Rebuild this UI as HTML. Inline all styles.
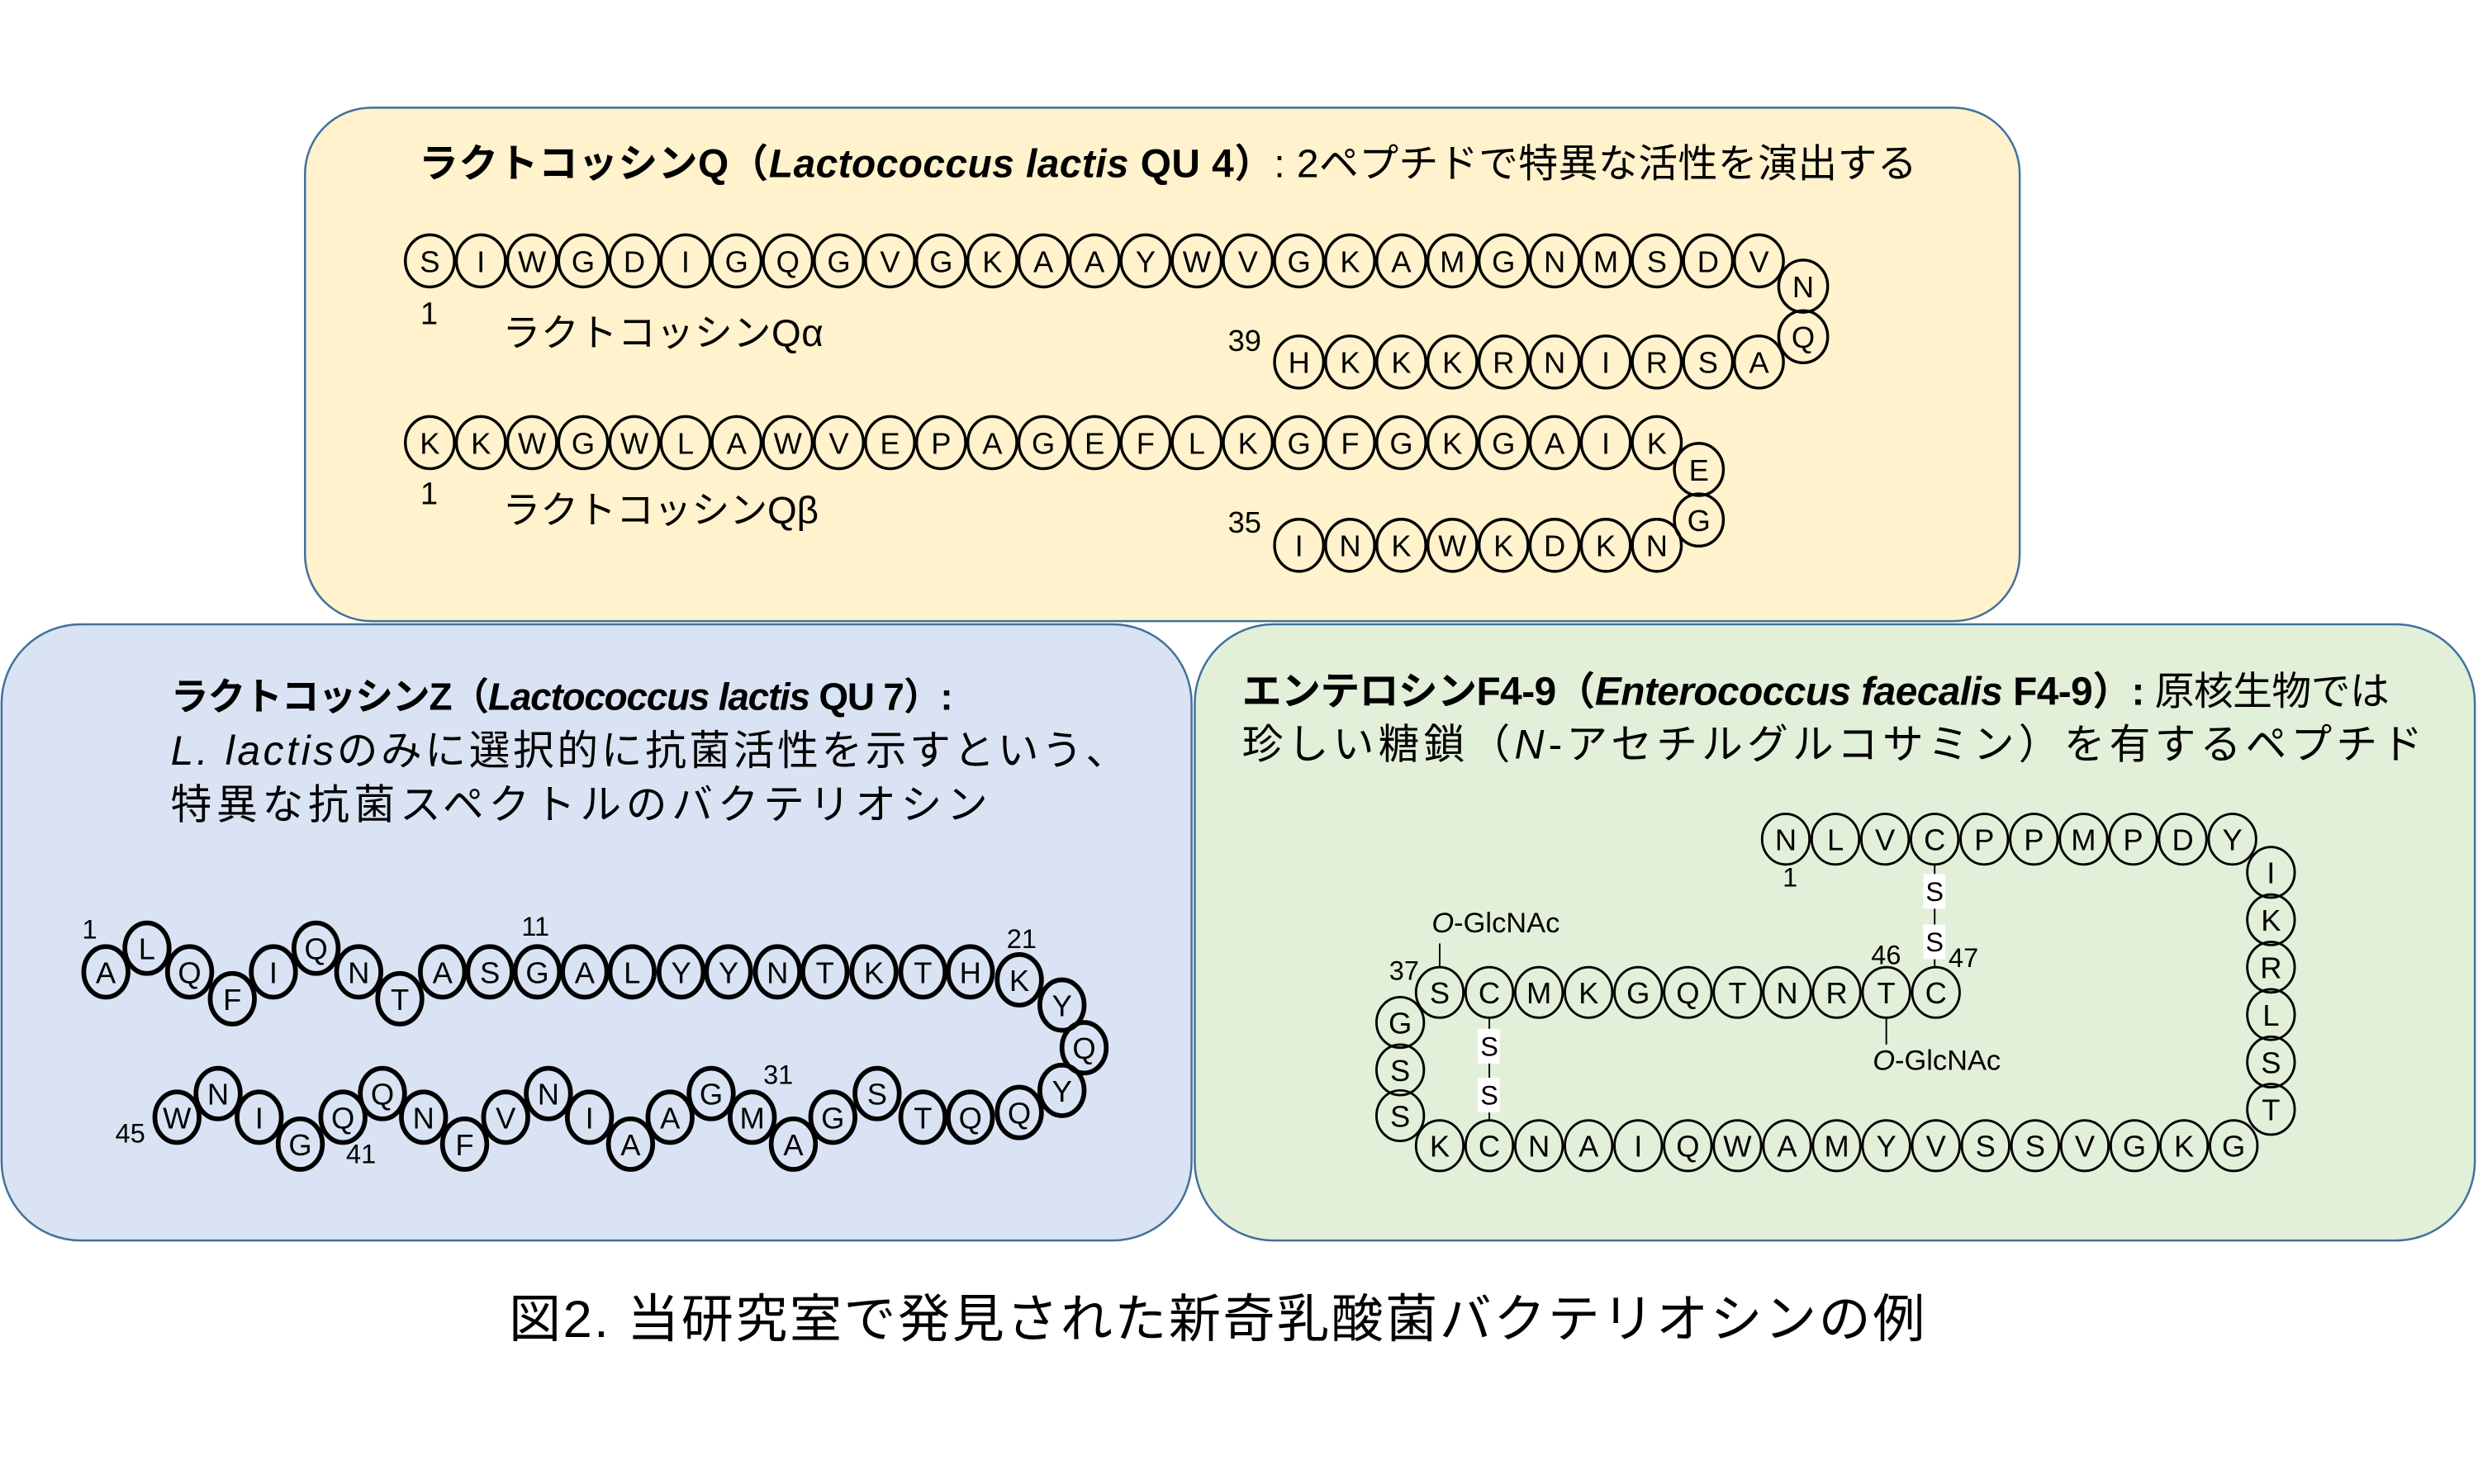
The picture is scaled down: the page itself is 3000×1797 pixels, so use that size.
<!DOCTYPE html>
<html><head><meta charset="utf-8"><style>
html,body{margin:0;padding:0;background:#fff;}
svg{display:block;}
text{font-family:"Liberation Sans","Noto Sans CJK JP",sans-serif;fill:#000;}
.c{fill:none;stroke:#000;stroke-width:1.8;}
.z{fill:none;stroke:#000;stroke-width:3;}
.g{fill:none;stroke:#000;stroke-width:1.5;}
.l{font-size:19px;text-anchor:middle;}
.n{font-size:17px;}
.t{font-size:25px;}
</style></head><body>
<svg width="3000" height="1797" viewBox="0 0 1568 939" xmlns="http://www.w3.org/2000/svg">
<rect x="193" y="68" width="1085" height="325" rx="42" fill="#fff2cc" stroke="#41719c" stroke-width="1.3"/>
<rect x="1" y="395" width="753" height="390" rx="50" fill="#dae3f3" stroke="#41719c" stroke-width="1.3"/>
<rect x="756" y="395" width="810" height="390" rx="50" fill="#e2efd9" stroke="#41719c" stroke-width="1.3"/>

<text x="265" y="112" class="t" font-weight="bold" textLength="948">ラクトコッシンQ（<tspan font-style="italic">Lactococcus lactis</tspan> QU 4）<tspan font-weight="normal">: 2ペプチドで特異な活性を演出する</tspan></text>

<g>
<g class="c">
<ellipse cx="272" cy="165" rx="15.5" ry="16.5"/><ellipse cx="304.3" cy="165" rx="15.5" ry="16.5"/><ellipse cx="336.7" cy="165" rx="15.5" ry="16.5"/><ellipse cx="369" cy="165" rx="15.5" ry="16.5"/><ellipse cx="401.4" cy="165" rx="15.5" ry="16.5"/><ellipse cx="433.8" cy="165" rx="15.5" ry="16.5"/><ellipse cx="466.1" cy="165" rx="15.5" ry="16.5"/><ellipse cx="498.5" cy="165" rx="15.5" ry="16.5"/><ellipse cx="530.8" cy="165" rx="15.5" ry="16.5"/><ellipse cx="563.2" cy="165" rx="15.5" ry="16.5"/><ellipse cx="595.5" cy="165" rx="15.5" ry="16.5"/><ellipse cx="627.9" cy="165" rx="15.5" ry="16.5"/><ellipse cx="660.2" cy="165" rx="15.5" ry="16.5"/><ellipse cx="692.6" cy="165" rx="15.5" ry="16.5"/><ellipse cx="724.9" cy="165" rx="15.5" ry="16.5"/><ellipse cx="757.3" cy="165" rx="15.5" ry="16.5"/><ellipse cx="789.6" cy="165" rx="15.5" ry="16.5"/><ellipse cx="822" cy="165" rx="15.5" ry="16.5"/><ellipse cx="854.3" cy="165" rx="15.5" ry="16.5"/><ellipse cx="886.7" cy="165" rx="15.5" ry="16.5"/><ellipse cx="919" cy="165" rx="15.5" ry="16.5"/><ellipse cx="951.4" cy="165" rx="15.5" ry="16.5"/><ellipse cx="983.7" cy="165" rx="15.5" ry="16.5"/><ellipse cx="1016.1" cy="165" rx="15.5" ry="16.5"/><ellipse cx="1048.4" cy="165" rx="15.5" ry="16.5"/><ellipse cx="1080.8" cy="165" rx="15.5" ry="16.5"/><ellipse cx="1113" cy="165" rx="15.5" ry="16.5"/>
<ellipse cx="1141" cy="181" rx="15.5" ry="16.5"/><ellipse cx="1141" cy="213" rx="15.5" ry="16.5"/>
<ellipse cx="822" cy="229" rx="15.5" ry="16.5"/><ellipse cx="854.3" cy="229" rx="15.5" ry="16.5"/><ellipse cx="886.7" cy="229" rx="15.5" ry="16.5"/><ellipse cx="919" cy="229" rx="15.5" ry="16.5"/><ellipse cx="951.4" cy="229" rx="15.5" ry="16.5"/><ellipse cx="983.7" cy="229" rx="15.5" ry="16.5"/><ellipse cx="1016.1" cy="229" rx="15.5" ry="16.5"/><ellipse cx="1048.4" cy="229" rx="15.5" ry="16.5"/><ellipse cx="1080.8" cy="229" rx="15.5" ry="16.5"/><ellipse cx="1113" cy="229" rx="15.5" ry="16.5"/>
</g>
<g class="l">
<text x="272" y="172">S</text><text x="304.3" y="172">I</text><text x="336.7" y="172">W</text><text x="369" y="172">G</text><text x="401.4" y="172">D</text><text x="433.8" y="172">I</text><text x="466.1" y="172">G</text><text x="498.5" y="172">Q</text><text x="530.8" y="172">G</text><text x="563.2" y="172">V</text><text x="595.5" y="172">G</text><text x="627.9" y="172">K</text><text x="660.2" y="172">A</text><text x="692.6" y="172">A</text><text x="724.9" y="172">Y</text><text x="757.3" y="172">W</text><text x="789.6" y="172">V</text><text x="822" y="172">G</text><text x="854.3" y="172">K</text><text x="886.7" y="172">A</text><text x="919" y="172">M</text><text x="951.4" y="172">G</text><text x="983.7" y="172">N</text><text x="1016.1" y="172">M</text><text x="1048.4" y="172">S</text><text x="1080.8" y="172">D</text><text x="1113" y="172">V</text>
<text x="1141" y="188">N</text><text x="1141" y="220">Q</text>
<text x="822" y="236">H</text><text x="854.3" y="236">K</text><text x="886.7" y="236">K</text><text x="919" y="236">K</text><text x="951.4" y="236">R</text><text x="983.7" y="236">N</text><text x="1016.1" y="236">I</text><text x="1048.4" y="236">R</text><text x="1080.8" y="236">S</text><text x="1113" y="236">A</text>
</g>
<text x="266" y="205" style="font-size:20px">1</text>
<text x="777" y="222" style="font-size:19px">39</text>
<text x="318" y="219" style="font-size:24px" textLength="203">ラクトコッシンQα</text>
</g>

<g>
<g class="c">
<ellipse cx="272" cy="280" rx="15.5" ry="16.5"/><ellipse cx="304.3" cy="280" rx="15.5" ry="16.5"/><ellipse cx="336.7" cy="280" rx="15.5" ry="16.5"/><ellipse cx="369" cy="280" rx="15.5" ry="16.5"/><ellipse cx="401.4" cy="280" rx="15.5" ry="16.5"/><ellipse cx="433.8" cy="280" rx="15.5" ry="16.5"/><ellipse cx="466.1" cy="280" rx="15.5" ry="16.5"/><ellipse cx="498.5" cy="280" rx="15.5" ry="16.5"/><ellipse cx="530.8" cy="280" rx="15.5" ry="16.5"/><ellipse cx="563.2" cy="280" rx="15.5" ry="16.5"/><ellipse cx="595.5" cy="280" rx="15.5" ry="16.5"/><ellipse cx="627.9" cy="280" rx="15.5" ry="16.5"/><ellipse cx="660.2" cy="280" rx="15.5" ry="16.5"/><ellipse cx="692.6" cy="280" rx="15.5" ry="16.5"/><ellipse cx="724.9" cy="280" rx="15.5" ry="16.5"/><ellipse cx="757.3" cy="280" rx="15.5" ry="16.5"/><ellipse cx="789.6" cy="280" rx="15.5" ry="16.5"/><ellipse cx="822" cy="280" rx="15.5" ry="16.5"/><ellipse cx="854.3" cy="280" rx="15.5" ry="16.5"/><ellipse cx="886.7" cy="280" rx="15.5" ry="16.5"/><ellipse cx="919" cy="280" rx="15.5" ry="16.5"/><ellipse cx="951.4" cy="280" rx="15.5" ry="16.5"/><ellipse cx="983.7" cy="280" rx="15.5" ry="16.5"/><ellipse cx="1016.1" cy="280" rx="15.5" ry="16.5"/><ellipse cx="1048.4" cy="280" rx="15.5" ry="16.5"/>
<ellipse cx="1075" cy="297" rx="15.5" ry="16.5"/><ellipse cx="1075" cy="329" rx="15.5" ry="16.5"/>
<ellipse cx="822" cy="345" rx="15.5" ry="16.5"/><ellipse cx="854.3" cy="345" rx="15.5" ry="16.5"/><ellipse cx="886.7" cy="345" rx="15.5" ry="16.5"/><ellipse cx="919" cy="345" rx="15.5" ry="16.5"/><ellipse cx="951.4" cy="345" rx="15.5" ry="16.5"/><ellipse cx="983.7" cy="345" rx="15.5" ry="16.5"/><ellipse cx="1016.1" cy="345" rx="15.5" ry="16.5"/><ellipse cx="1048.4" cy="345" rx="15.5" ry="16.5"/>
</g>
<g class="l">
<text x="272" y="287">K</text><text x="304.3" y="287">K</text><text x="336.7" y="287">W</text><text x="369" y="287">G</text><text x="401.4" y="287">W</text><text x="433.8" y="287">L</text><text x="466.1" y="287">A</text><text x="498.5" y="287">W</text><text x="530.8" y="287">V</text><text x="563.2" y="287">E</text><text x="595.5" y="287">P</text><text x="627.9" y="287">A</text><text x="660.2" y="287">G</text><text x="692.6" y="287">E</text><text x="724.9" y="287">F</text><text x="757.3" y="287">L</text><text x="789.6" y="287">K</text><text x="822" y="287">G</text><text x="854.3" y="287">F</text><text x="886.7" y="287">G</text><text x="919" y="287">K</text><text x="951.4" y="287">G</text><text x="983.7" y="287">A</text><text x="1016.1" y="287">I</text><text x="1048.4" y="287">K</text>
<text x="1075" y="304">E</text><text x="1075" y="336">G</text>
<text x="822" y="352">I</text><text x="854.3" y="352">N</text><text x="886.7" y="352">K</text><text x="919" y="352">W</text><text x="951.4" y="352">K</text><text x="983.7" y="352">D</text><text x="1016.1" y="352">K</text><text x="1048.4" y="352">N</text>
</g>
<text x="266" y="319" style="font-size:20px">1</text>
<text x="777" y="337" style="font-size:19px">35</text>
<text x="318" y="331" style="font-size:24px" textLength="200">ラクトコッシンQβ</text>
</g>

<!-- Z panel -->
<text x="108" y="449" style="font-size:24px" font-weight="bold" textLength="495">ラクトコッシンZ（<tspan font-style="italic">Lactococcus lactis</tspan> QU 7）:</text>
<text x="108" y="484" style="font-size:26px" textLength="605"><tspan font-style="italic">L. lactis</tspan>のみに選択的に抗菌活性を示すという、</text>
<text x="108" y="518" style="font-size:26px" textLength="517">特異な抗菌スペクトルのバクテリオシン</text>
<g class="z">
<ellipse cx="67" cy="615" rx="14" ry="16"/><ellipse cx="93" cy="600" rx="14" ry="16"/><ellipse cx="120" cy="615" rx="14" ry="16"/><ellipse cx="147" cy="632" rx="14" ry="16"/><ellipse cx="173" cy="615" rx="14" ry="16"/><ellipse cx="200" cy="600" rx="14" ry="16"/><ellipse cx="227" cy="615" rx="14" ry="16"/><ellipse cx="253" cy="632" rx="14" ry="16"/><ellipse cx="280" cy="615" rx="14" ry="16"/><ellipse cx="310" cy="615" rx="14" ry="16"/><ellipse cx="340" cy="615" rx="14" ry="16"/><ellipse cx="370" cy="615" rx="14" ry="16"/><ellipse cx="400" cy="615" rx="14" ry="16"/><ellipse cx="431" cy="615" rx="14" ry="16"/><ellipse cx="461" cy="615" rx="14" ry="16"/><ellipse cx="492" cy="615" rx="14" ry="16"/><ellipse cx="522" cy="615" rx="14" ry="16"/><ellipse cx="553" cy="615" rx="14" ry="16"/><ellipse cx="584" cy="615" rx="14" ry="16"/><ellipse cx="614" cy="615" rx="14" ry="16"/><ellipse cx="645" cy="620" rx="14" ry="16"/><ellipse cx="672" cy="636" rx="14" ry="16"/><ellipse cx="686" cy="663" rx="14" ry="16"/><ellipse cx="672" cy="690" rx="14" ry="16"/><ellipse cx="645" cy="704" rx="14" ry="16"/><ellipse cx="614" cy="707" rx="14" ry="16"/><ellipse cx="584" cy="707" rx="14" ry="16"/><ellipse cx="555" cy="692" rx="14" ry="16"/><ellipse cx="527" cy="707" rx="14" ry="16"/><ellipse cx="502" cy="724" rx="14" ry="16"/><ellipse cx="476" cy="707" rx="14" ry="16"/><ellipse cx="450" cy="692" rx="14" ry="16"/><ellipse cx="424" cy="707" rx="14" ry="16"/><ellipse cx="399" cy="724" rx="14" ry="16"/><ellipse cx="373" cy="707" rx="14" ry="16"/><ellipse cx="347" cy="692" rx="14" ry="16"/><ellipse cx="320" cy="707" rx="14" ry="16"/><ellipse cx="294" cy="724" rx="14" ry="16"/><ellipse cx="268" cy="707" rx="14" ry="16"/><ellipse cx="242" cy="692" rx="14" ry="16"/><ellipse cx="217" cy="707" rx="14" ry="16"/><ellipse cx="190" cy="724" rx="14" ry="16"/><ellipse cx="164" cy="707" rx="14" ry="16"/><ellipse cx="138" cy="692" rx="14" ry="16"/><ellipse cx="112" cy="707" rx="14" ry="16"/>
</g>
<g class="l">
<text x="67" y="622">A</text><text x="93" y="607">L</text><text x="120" y="622">Q</text><text x="147" y="639">F</text><text x="173" y="622">I</text><text x="200" y="607">Q</text><text x="227" y="622">N</text><text x="253" y="639">T</text><text x="280" y="622">A</text><text x="310" y="622">S</text><text x="340" y="622">G</text><text x="370" y="622">A</text><text x="400" y="622">L</text><text x="431" y="622">Y</text><text x="461" y="622">Y</text><text x="492" y="622">N</text><text x="522" y="622">T</text><text x="553" y="622">K</text><text x="584" y="622">T</text><text x="614" y="622">H</text><text x="645" y="627">K</text><text x="672" y="643">Y</text><text x="686" y="670">Q</text><text x="672" y="697">Y</text><text x="645" y="711">Q</text><text x="614" y="714">Q</text><text x="584" y="714">T</text><text x="555" y="699">S</text><text x="527" y="714">G</text><text x="502" y="731">A</text><text x="476" y="714">M</text><text x="450" y="699">G</text><text x="424" y="714">A</text><text x="399" y="731">A</text><text x="373" y="714">I</text><text x="347" y="699">N</text><text x="320" y="714">V</text><text x="294" y="731">F</text><text x="268" y="714">N</text><text x="242" y="699">Q</text><text x="217" y="714">Q</text><text x="190" y="731">G</text><text x="164" y="714">I</text><text x="138" y="699">N</text><text x="112" y="714">W</text>
</g>
<g class="n">
<text x="52" y="594">1</text><text x="330" y="592">11</text><text x="637" y="600">21</text><text x="483" y="686">31</text><text x="219" y="736">41</text><text x="73" y="723">45</text>
</g>

<!-- Green panel -->
<text x="786" y="446" class="t" textLength="726"><tspan font-weight="bold">エンテロシンF4-9（<tspan font-style="italic">Enterococcus faecalis</tspan> F4-9）: </tspan>原核生物では</text>
<text x="786" y="480" style="font-size:26px" textLength="747">珍しい糖鎖（<tspan font-style="italic">N</tspan>-アセチルグルコサミン）を有するペプチド</text>

<g stroke="#000" stroke-width="1">
<line x1="1224.2" y1="547" x2="1224.2" y2="612"/>
<line x1="942.4" y1="644" x2="942.4" y2="709"/>
<line x1="911" y1="597" x2="911" y2="612"/>
<line x1="1193.6" y1="644" x2="1193.6" y2="661"/>
</g>
<rect x="1217" y="553" width="14" height="22" fill="#fff"/><rect x="1217" y="585" width="14" height="22" fill="#fff"/>
<rect x="935" y="651" width="14" height="22" fill="#fff"/><rect x="935" y="682" width="14" height="22" fill="#fff"/>
<g class="l" style="font-size:17px">
<text x="1224.2" y="570">S</text><text x="1224.2" y="602">S</text>
<text x="942.4" y="668">S</text><text x="942.4" y="699">S</text>
</g>

<g class="g">
<ellipse cx="1130" cy="531" rx="15" ry="16"/><ellipse cx="1161.4" cy="531" rx="15" ry="16"/><ellipse cx="1192.8" cy="531" rx="15" ry="16"/><ellipse cx="1224.2" cy="531" rx="15" ry="16"/><ellipse cx="1255.6" cy="531" rx="15" ry="16"/><ellipse cx="1287" cy="531" rx="15" ry="16"/><ellipse cx="1318.4" cy="531" rx="15" ry="16"/><ellipse cx="1349.8" cy="531" rx="15" ry="16"/><ellipse cx="1381.2" cy="531" rx="15" ry="16"/><ellipse cx="1412.6" cy="531" rx="15" ry="16"/>
<ellipse cx="1437" cy="552" rx="15" ry="16"/><ellipse cx="1437" cy="582" rx="15" ry="16"/><ellipse cx="1437" cy="612" rx="15" ry="16"/><ellipse cx="1437" cy="642" rx="15" ry="16"/><ellipse cx="1437" cy="672" rx="15" ry="16"/><ellipse cx="1437" cy="702" rx="15" ry="16"/>
<ellipse cx="911" cy="725" rx="15" ry="16"/><ellipse cx="942.4" cy="725" rx="15" ry="16"/><ellipse cx="973.8" cy="725" rx="15" ry="16"/><ellipse cx="1005.2" cy="725" rx="15" ry="16"/><ellipse cx="1036.6" cy="725" rx="15" ry="16"/><ellipse cx="1068" cy="725" rx="15" ry="16"/><ellipse cx="1099.4" cy="725" rx="15" ry="16"/><ellipse cx="1130.8" cy="725" rx="15" ry="16"/><ellipse cx="1162.2" cy="725" rx="15" ry="16"/><ellipse cx="1193.6" cy="725" rx="15" ry="16"/><ellipse cx="1225" cy="725" rx="15" ry="16"/><ellipse cx="1256.4" cy="725" rx="15" ry="16"/><ellipse cx="1287.8" cy="725" rx="15" ry="16"/><ellipse cx="1319.2" cy="725" rx="15" ry="16"/><ellipse cx="1350.6" cy="725" rx="15" ry="16"/><ellipse cx="1382" cy="725" rx="15" ry="16"/><ellipse cx="1413.4" cy="725" rx="15" ry="16"/>
<ellipse cx="886" cy="647" rx="15" ry="16"/><ellipse cx="886" cy="677" rx="15" ry="16"/><ellipse cx="886" cy="706" rx="15" ry="16"/>
<ellipse cx="911" cy="628" rx="15" ry="16"/><ellipse cx="942.4" cy="628" rx="15" ry="16"/><ellipse cx="973.8" cy="628" rx="15" ry="16"/><ellipse cx="1005.2" cy="628" rx="15" ry="16"/><ellipse cx="1036.6" cy="628" rx="15" ry="16"/><ellipse cx="1068" cy="628" rx="15" ry="16"/><ellipse cx="1099.4" cy="628" rx="15" ry="16"/><ellipse cx="1130.8" cy="628" rx="15" ry="16"/><ellipse cx="1162.2" cy="628" rx="15" ry="16"/><ellipse cx="1193.6" cy="628" rx="15" ry="16"/><ellipse cx="1225" cy="628" rx="15" ry="16"/>
</g>
<g class="l">
<text x="1130" y="538">N</text><text x="1161.4" y="538">L</text><text x="1192.8" y="538">V</text><text x="1224.2" y="538">C</text><text x="1255.6" y="538">P</text><text x="1287" y="538">P</text><text x="1318.4" y="538">M</text><text x="1349.8" y="538">P</text><text x="1381.2" y="538">D</text><text x="1412.6" y="538">Y</text>
<text x="1437" y="559">I</text><text x="1437" y="589">K</text><text x="1437" y="619">R</text><text x="1437" y="649">L</text><text x="1437" y="679">S</text><text x="1437" y="709">T</text>
<text x="911" y="732">K</text><text x="942.4" y="732">C</text><text x="973.8" y="732">N</text><text x="1005.2" y="732">A</text><text x="1036.6" y="732">I</text><text x="1068" y="732">Q</text><text x="1099.4" y="732">W</text><text x="1130.8" y="732">A</text><text x="1162.2" y="732">M</text><text x="1193.6" y="732">Y</text><text x="1225" y="732">V</text><text x="1256.4" y="732">S</text><text x="1287.8" y="732">S</text><text x="1319.2" y="732">V</text><text x="1350.6" y="732">G</text><text x="1382" y="732">K</text><text x="1413.4" y="732">G</text>
<text x="886" y="654">G</text><text x="886" y="684">S</text><text x="886" y="713">S</text>
<text x="911" y="635">S</text><text x="942.4" y="635">C</text><text x="973.8" y="635">M</text><text x="1005.2" y="635">K</text><text x="1036.6" y="635">G</text><text x="1068" y="635">Q</text><text x="1099.4" y="635">T</text><text x="1130.8" y="635">N</text><text x="1162.2" y="635">R</text><text x="1193.6" y="635">T</text><text x="1225" y="635">C</text>
</g>
<g class="n">
<text x="1128" y="561">1</text>
<text x="879" y="620">37</text>
<text x="1184" y="610">46</text>
<text x="1233" y="612">47</text>
</g>
<text x="906" y="590" style="font-size:18px"><tspan font-style="italic">O</tspan>-GlcNAc</text>
<text x="1185" y="677" style="font-size:18px"><tspan font-style="italic">O</tspan>-GlcNAc</text>

<text x="322" y="846" style="font-size:33px" textLength="896">図2. 当研究室で発見された新奇乳酸菌バクテリオシンの例</text>
</svg>
</body></html>
